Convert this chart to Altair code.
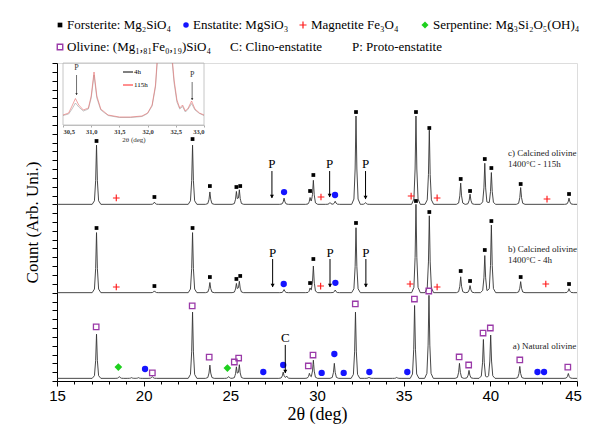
import altair as alt
import numpy as np
import pandas as pd

# ---------------- data ----------------
# peak positions (2theta, deg) and heights (arb. counts above each pattern's baseline)
a_pos = [17.28, 18.6, 19.3, 19.7, 20.5, 22.82, 23.82, 24.9, 25.35, 25.52, 28.05, 28.25,
         29.56, 29.79, 31.0, 32.22, 33.0, 34.6, 35.63, 36.46, 38.22, 38.77, 39.6, 40.02, 41.7, 44.5]
a_h = [500, 20, 8, 8, 20, 750, 150, 20, 125, 150, 70, 25,
       55, 205, 170, 750, 12, 10, 825, 940, 170, 90, 440, 490, 135, 55]

b_pos = [17.28, 20.62, 22.82, 23.82, 25.35, 25.52, 28.1, 29.6, 29.79, 31.05, 32.25, 35.71,
         36.48, 38.29, 38.83, 39.68, 40.06, 41.75, 44.54]
b_h = [680, 20, 680, 115, 100, 125, 35, 45, 300, 30, 735, 1000,
       870, 180, 80, 420, 765, 125, 45]

c_pos = [17.28, 20.62, 22.82, 23.82, 25.35, 25.52, 28.1, 29.6, 29.79, 30.75, 31.05, 32.25,
         32.8, 35.71, 36.48, 38.29, 38.83, 39.68, 40.06, 41.75, 44.54]
c_h = [670, 25, 670, 140, 140, 160, 70, 70, 270, 20, 35, 1000,
       20, 1000, 840, 240, 115, 465, 360, 190, 70]

baselines = {"a": 30, "b": 1000, "c": 2000}

# phase markers (2theta, counts)
fo_x = [17.28, 20.62, 22.82, 23.82, 25.35, 25.57, 29.6, 29.79, 32.25, 35.71, 36.48, 38.29,
        38.83, 39.68, 40.06, 41.75, 44.54]
fo_c_y = [2717, 2083, 2739, 2207, 2196, 2207, 2151, 2332, 3045, 3045, 2864, 2287,
          2151, 2513, 2411, 2230, 2117]
fo_b_y = [1732, 1075, 1732, 1177, 1155, 1189, 1109, 1381, 1789, 2038, 1913, 1245,
          1132, 1483, 1811, 1177, 1098]

en_x = [28.1, 31.04, 28.08, 31.06, 20.08, 26.9, 28.05, 30.27, 31.0, 31.54, 33.02, 35.21, 42.72, 43.1]
en_y = [2139, 2106, 1098, 1111, 136, 102, 181, 91, 306, 91, 102, 102, 102, 102]

mag_x = [18.42, 30.23, 35.43, 36.93, 43.27, 18.42, 30.21, 35.37, 36.93, 43.2]
mag_y = [2072, 2083, 2094, 2072, 2060, 1064, 1075, 1098, 1064, 1098]

serp_x = [18.54, 24.83]
serp_y = [158, 147]

ol_x = [17.26, 20.5, 22.8, 23.78, 25.23, 25.48, 29.5, 29.77, 32.21, 35.62, 36.45, 38.2,
        38.75, 39.58, 40.0, 41.7, 44.47]
ol_y = [613, 91, 851, 270, 215, 260, 170, 294, 872, 928, 1019, 272,
        181, 543, 600, 238, 158]

# P / C arrows: position, arrow top, arrow tip, label
arr_x = [27.4, 30.73, 32.8, 27.44, 30.75, 32.82, 28.17]
arr_top = [2377, 2377, 2377, 1381, 1381, 1381, 408]
arr_tip = [2072, 2083, 2060, 1064, 1064, 1064, 91]
arr_lab = [2456, 2456, 2456, 1449, 1449, 1449, 487]
arr_txt = ["P", "P", "P", "P", "P", "P", "C"]

# sample labels
lab_x = [41.02, 41.02, 41.02, 41.02, 41.3]
lab_y = [2581, 2456, 1494, 1370, 396]
lab_txt = ["c) Calcined olivine", "1400°C - 115h", "b) Calcined olivine", "1400°C - 4h",
           "a) Natural olivine"]

# inset (30.5-33 deg) traces
in_x = [30.5, 30.6, 30.66, 30.72, 30.78, 30.86, 30.95, 31.0, 31.05, 31.1, 31.17, 31.3, 31.5,
        31.7, 31.9, 32.0, 32.08, 32.14, 32.2, 32.3, 32.4, 32.47, 32.52, 32.57, 32.62, 32.67,
        32.72, 32.78, 32.84, 32.92, 33.0]
in_115h = [100, 120, 190, 265, 200, 150, 170, 290, 530, 290, 160, 100, 80,
           80, 90, 120, 200, 400, 900, 1400, 900, 450, 250, 170, 200, 140,
           170, 240, 160, 120, 100]
in_4h = [95, 110, 160, 220, 180, 140, 160, 270, 500, 270, 150, 95, 75,
         75, 85, 115, 190, 380, 850, 1400, 850, 420, 230, 160, 185, 130,
         160, 215, 150, 115, 95]
in_arr_x = [30.74, 32.79]
in_arr_top = [500, 430]
in_arr_tip = [300, 250]
in_arr_lab = [575, 505]

# ---------------- build line tables ----------------
prof_dx = np.array([-0.25, -0.12, -0.05, 0.0, 0.05, 0.12, 0.25])
prof_f = np.array([0.0, 0.06, 0.4, 1.0, 0.4, 0.06, 0.0])


def build(name, pos, h, base):
    xs = {15.0, 45.0}
    for p in pos:
        xs.update(np.round(p + prof_dx, 4).tolist())
    xs = np.array(sorted(xs))
    ys = np.full(xs.shape, float(base))
    for p, hh in zip(pos, h):
        ys += np.interp(xs, p + prof_dx, hh * prof_f, left=0, right=0)
    return pd.DataFrame({"pattern": name, "theta": xs, "count": ys})


trace_df = pd.concat([build("a", a_pos, a_h, baselines["a"]),
                      build("b", b_pos, b_h, baselines["b"]),
                      build("c", c_pos, c_h, baselines["c"])], ignore_index=True)

SERIF = "Liberation Serif"
SANS = "Liberation Sans"
W, H = 520, 318

x_main = alt.Scale(domain=[15, 45], nice=False, zero=False)
y_main = alt.Scale(domain=[0, 3600], nice=False, zero=False)

x_axis = alt.Axis(values=list(range(15, 46)), tickCount=200, format="d",
                  labelExpr="datum.value % 5 === 0 ? datum.label : ''",
                  tickSize={"condition": {"test": "datum.value % 5 === 0", "value": 5}, "value": 3},
                  labelOffset={"condition": {"test": "datum.value === 45", "value": -4}, "value": 0},
                  labelFont=SANS, labelFontSize=15, labelColor="black", labelPadding=2,
                  labelOverlap=False, labelFlush=False, title="2θ (deg)", titleFont=SERIF,
                  titleFontSize=18, titleFontWeight="normal", titleColor="black", titlePadding=2,
                  domainColor="black", tickColor="black", grid=False)
y_axis = alt.Axis(values=list(range(0, 3601, 100)), tickCount=200, labels=False, tickSize=5,
                  title="Count (Arb. Uni.)", titleFont=SERIF, titleFontSize=17,
                  titleFontWeight="normal", titleColor="black", titlePadding=10,
                  domainColor="black", tickColor="black", grid=False)

traces = alt.Chart(trace_df).mark_line(color="#333333", strokeWidth=0.9).encode(
    x=alt.X("theta:Q", scale=x_main, axis=x_axis),
    y=alt.Y("count:Q", scale=y_main, axis=y_axis),
    detail="pattern:N",
)


def pts(xs, ys, shape, color, size, filled=True, sw=1.0):
    df = pd.DataFrame({"theta": xs, "count": ys})
    return alt.Chart(df).mark_point(shape=shape, size=size, filled=filled, color=color,
                                    opacity=1, strokeWidth=sw).encode(
        x=alt.X("theta:Q", scale=x_main), y=alt.Y("count:Q", scale=y_main))


PLUS = "M-1,-0.17L1,-0.17L1,0.17L-1,0.17Z M-0.17,-1L0.17,-1L0.17,1L-0.17,1Z"

fo_layer = pts(fo_x + fo_x, fo_c_y + fo_b_y, "square", "black", 14)
en_layer = pts(en_x, en_y, "circle", "#1515ff", 40)
mag_layer = pts(mag_x, mag_y, PLUS, "#ff1a1a", 45)
serp_layer = pts(serp_x, serp_y, "diamond", "#1ed01e", 60)
ol_layer = pts(ol_x, ol_y, "square", "#9a3aa8", 30, filled=False, sw=1.3)

arr_df = pd.DataFrame({"theta": arr_x, "top": arr_top, "tip": arr_tip, "lab": arr_lab, "txt": arr_txt})
arr_rule = alt.Chart(arr_df).mark_rule(color="black", strokeWidth=1).encode(
    x=alt.X("theta:Q", scale=x_main), y=alt.Y("top:Q", scale=y_main), y2="tip:Q")
arr_head = alt.Chart(arr_df).mark_point(shape="triangle-down", filled=True, size=16,
                                        color="black", opacity=1, yOffset=-1.5).encode(
    x=alt.X("theta:Q", scale=x_main), y=alt.Y("tip:Q", scale=y_main))
arr_text = alt.Chart(arr_df).mark_text(font=SERIF, fontSize=13, color="black", baseline="middle").encode(
    x=alt.X("theta:Q", scale=x_main), y=alt.Y("lab:Q", scale=y_main), text="txt:N")

lab_df = pd.DataFrame({"theta": lab_x, "count": lab_y, "txt": lab_txt})
lab_text = alt.Chart(lab_df).mark_text(font=SERIF, fontSize=9, color="#222", align="left",
                                       baseline="middle").encode(
    x=alt.X("theta:Q", scale=x_main), y=alt.Y("count:Q", scale=y_main), text="txt:N")

main = alt.layer(traces, fo_layer, en_layer, mag_layer, serp_layer, ol_layer,
                 arr_rule, arr_head, arr_text, lab_text)

# ---------------- inset ----------------
x_in = alt.Scale(domain=[30.5, 33.0], range=[6, 147], nice=False, zero=False)
y_in = alt.Scale(domain=[0, 620], range=[62, 0], nice=False, zero=False)
in_axis = alt.Axis(orient="bottom", offset=-256, values=[30.5, 31.0, 31.5, 32.0, 32.5, 33.0],
                   tickCount=200, format=".1f", labelExpr="replace(datum.label, '.', ',')",
                   labelFont=SERIF, labelFontSize=6.5, labelFontWeight="bold", labelColor="#333",
                   labelPadding=1, labelOverlap=False, tickSize=2, tickColor="#aaa",
                   domainColor="#b5b5b5", domainWidth=0.8,
                   title="2θ (deg)", titleFont=SERIF, titleFontSize=7, titleFontWeight="normal",
                   titleColor="#333", titlePadding=1, grid=False)

frame_df = pd.DataFrame({"x0": [30.5], "x1": [33.0], "y0": [0], "y1": [620]})
in_frame = alt.Chart(frame_df).mark_rect(fillOpacity=0, stroke="#b8b8b8", strokeWidth=0.8).encode(
    x=alt.X("x0:Q", scale=x_in, axis=in_axis), x2="x1:Q",
    y=alt.Y("y0:Q", scale=y_in, axis=None), y2="y1:Q")

in_df = pd.DataFrame({"theta": in_x + in_x, "val": in_4h + in_115h,
                      "run": ["4h"] * len(in_x) + ["115h"] * len(in_x)})
in_lines = alt.Chart(in_df).mark_line(strokeWidth=0.8, clip=True, opacity=0.8).encode(
    x=alt.X("theta:Q", scale=x_in), y=alt.Y("val:Q", scale=y_in),
    color=alt.Color("run:N", scale=alt.Scale(domain=["4h", "115h"], range=["#a0a0a0", "#e87070"]),
                    legend=None),
    order=alt.Order("theta:Q"))

in_arr_df = pd.DataFrame({"theta": in_arr_x, "top": in_arr_top, "tip": in_arr_tip,
                          "lab": in_arr_lab, "txt": ["P", "P"]})
in_rule = alt.Chart(in_arr_df).mark_rule(color="#333", strokeWidth=0.7).encode(
    x=alt.X("theta:Q", scale=x_in), y=alt.Y("top:Q", scale=y_in), y2="tip:Q")
in_head = alt.Chart(in_arr_df).mark_point(shape="triangle-down", filled=True, size=6,
                                          color="#333", opacity=1, yOffset=-1).encode(
    x=alt.X("theta:Q", scale=x_in), y=alt.Y("tip:Q", scale=y_in))
in_text = alt.Chart(in_arr_df).mark_text(font=SERIF, fontSize=8, color="#333", baseline="middle").encode(
    x=alt.X("theta:Q", scale=x_in), y=alt.Y("lab:Q", scale=y_in), text="txt:N")

inset = alt.layer(in_frame, in_lines, in_rule, in_head, in_text)


# ---------------- legends ----------------
def sym(px, py, shape, color, size, filled=True, sw=1.2):
    return alt.Chart(pd.DataFrame({"k": [0]})).mark_point(
        shape=shape, size=size, filled=filled, color=color, opacity=1, strokeWidth=sw).encode(
        x=alt.value(px), y=alt.value(py))


def txt(px, py, s, size, color="black"):
    return alt.Chart(pd.DataFrame({"t": [s]})).mark_text(
        align="left", baseline="middle", font=SERIF, fontSize=size, color=color).encode(
        x=alt.value(px), y=alt.value(py), text="t:N")


def seg(px, px2, py, color):
    return alt.Chart(pd.DataFrame({"k": [0]})).mark_rule(color=color, strokeWidth=1).encode(
        x=alt.value(px), x2=alt.value(px2), y=alt.value(py))


LF = 13
legend_layers = [
    sym(3, -38, "square", "black", 22), txt(10, -38, "Forsterite: Mg₂SiO₄", LF),
    sym(129, -38, "circle", "#1515ff", 30), txt(136, -38, "Enstatite: MgSiO₃", LF),
    sym(246, -38, PLUS, "#ff1a1a", 50), txt(254, -38, "Magnetite Fe₃O₄", LF),
    sym(368, -38, "diamond", "#1ed01e", 50), txt(376, -38, "Serpentine: Mg₃Si₂O₅(OH)₄", LF),
    sym(3, -16, "square", "#9a3aa8", 30, filled=False, sw=1.4),
    txt(10, -16, "Olivine: (Mg₁,₈₁Fe₀,₁₉)SiO₄", LF),
    txt(173, -16, "C: Clino-enstatite", LF),
    txt(295, -16, "P: Proto-enstatite", LF),
    seg(66, 76, 9, "black"), txt(77, 9, "4h", 7),
    seg(66, 76, 22, "#ff2020"), txt(77, 22, "115h", 7),
]

chart = alt.layer(main, inset, *legend_layers).resolve_scale(
    x="independent", y="independent"
).properties(
    width=W, height=H,
    autosize=alt.AutoSizeParams(type="none"),
    padding={"left": 49, "top": 55, "right": 5, "bottom": 43},
).configure_view(stroke="black", strokeWidth=1).configure(background="white")

chart.save("out.html", embed_options={"renderer": "svg", "actions": False})
